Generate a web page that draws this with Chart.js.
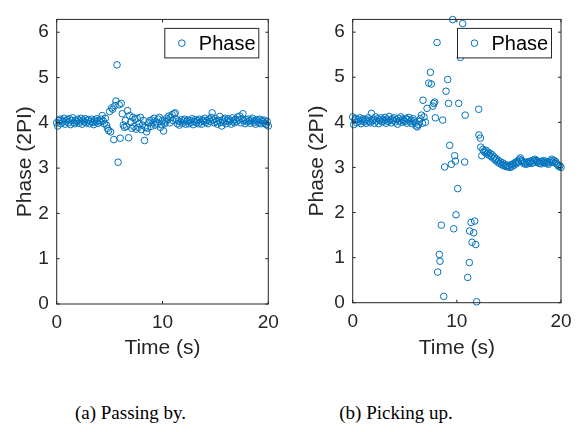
<!DOCTYPE html>
<html lang="en">
  <head>
    <meta charset="UTF-8" />
    <title>Phase</title>
    <script src="https://cdn.jsdelivr.net/npm/chart.js"></script>
    <style>
      body { margin: 0; width: 584px; height: 432px; background: #fff; position: relative; overflow: hidden; }
      canvas { position: absolute; top: 0; }
      #chartA { left: 0; }
      #chartB { left: 292px; }
      .caption { position: absolute; top: 402px; text-align: center; font-family: "Liberation Serif", "Times New Roman", serif; font-size: 19px; color: #000; white-space: nowrap; }
    </style>
  </head>
  <body>
    <canvas id="chartA" width="292" height="380"></canvas>
    <canvas id="chartB" width="292" height="380"></canvas>
    <div class="caption" style="left: 0; width: 261px">(a) Passing by.</div>
    <div class="caption" style="left: 266px; width: 260px">(b) Picking up.</div>

    <script>
      // (a) passing by: 0.1 s samples
      const timeA = [
        0, 0.1, 0.2, 0.3, 0.4, 0.5, 0.6, 0.7, 0.8, 0.9,
        1, 1.1, 1.2, 1.3, 1.4, 1.5, 1.6, 1.7, 1.8, 1.9,
        2, 2.1, 2.2, 2.3, 2.4, 2.5, 2.6, 2.7, 2.8, 2.9,
        3, 3.1, 3.2, 3.3, 3.4, 3.5, 3.6, 3.7, 3.8, 3.9,
        4, 4.1, 4.2, 4.3, 4.4, 4.5, 4.6, 4.7, 4.8, 4.9,
        5, 5.1, 5.2, 5.3, 5.4, 5.5, 5.6, 5.7, 5.8, 5.9,
        6, 6.1, 6.2, 6.3, 6.4, 6.5, 6.6, 6.7, 6.8, 6.9,
        7, 7.1, 7.2, 7.3, 7.4, 7.5, 7.6, 7.7, 7.8, 7.9,
        8, 8.1, 8.2, 8.3, 8.4, 8.5, 8.6, 8.7, 8.8, 8.9,
        9, 9.1, 9.2, 9.3, 9.4, 9.5, 9.6, 9.7, 9.8, 9.9,
        10, 10.1, 10.2, 10.3, 10.4, 10.5, 10.6, 10.7, 10.8, 10.9,
        11, 11.1, 11.2, 11.3, 11.4, 11.5, 11.6, 11.7, 11.8, 11.9,
        12, 12.1, 12.2, 12.3, 12.4, 12.5, 12.6, 12.7, 12.8, 12.9,
        13, 13.1, 13.2, 13.3, 13.4, 13.5, 13.6, 13.7, 13.8, 13.9,
        14, 14.1, 14.2, 14.3, 14.4, 14.5, 14.6, 14.7, 14.8, 14.9,
        15, 15.1, 15.2, 15.3, 15.4, 15.5, 15.6, 15.7, 15.8, 15.9,
        16, 16.1, 16.2, 16.3, 16.4, 16.5, 16.6, 16.7, 16.8, 16.9,
        17, 17.1, 17.2, 17.3, 17.4, 17.5, 17.6, 17.7, 17.8, 17.9,
        18, 18.1, 18.2, 18.3, 18.4, 18.5, 18.6, 18.7, 18.8, 18.9,
        19, 19.1, 19.2, 19.3, 19.4, 19.5, 19.6, 19.7, 19.8, 19.9,
        20
      ];
      const phaseA = [
        4.00, 3.93, 4.05, 4.08, 3.98, 4.06, 4.02, 4.10, 3.97, 4.04,
        4.07, 4.00, 4.09, 3.96, 4.05, 4.11, 4.01, 3.98, 4.06, 4.03,
        4.08, 3.99, 4.04, 4.10, 3.97, 4.06, 4.02, 4.09, 4.00, 4.05,
        4.07, 3.98, 4.03, 4.08, 4.01, 3.96, 4.06, 4.02, 4.09, 3.99,
        4.05, 4.02, 4.08, 4.16, 4.04, 3.98, 4.10, 3.95, 3.88, 3.83,
        4.25, 3.80, 4.33, 4.30, 3.63, 4.38, 4.48, 5.28, 3.13, 4.40,
        3.66, 4.43, 4.20, 3.95, 3.90, 4.05, 3.92, 4.27, 3.67, 4.16,
        4.02, 3.88, 4.12, 3.92, 4.08, 3.86, 4.10, 3.90, 3.98, 4.12,
        3.85, 3.95, 4.05, 3.61, 3.90, 3.80, 3.88, 4.00, 4.05, 3.92,
        4.06, 4.00, 4.10, 3.95, 4.02, 3.97, 4.08, 4.12, 3.90, 3.96,
        4.05, 3.82, 3.98, 4.02, 4.10, 4.06, 4.15, 4.00, 4.12, 4.18,
        4.05, 4.20, 4.22, 4.08, 3.98, 4.04, 3.95, 4.02, 4.07, 3.99,
        4.04, 4.08, 3.97, 4.03, 4.06, 3.98, 4.05, 4.01, 4.09, 3.96,
        4.03, 4.07, 4.00, 4.05, 3.98, 4.08, 4.02, 3.97, 4.06, 4.04,
        4.10, 4.01, 4.05, 3.98, 4.08, 4.03, 4.12, 4.22, 4.06, 4.00,
        4.09, 4.03, 3.97, 4.05, 4.14, 4.01, 3.93, 4.07, 4.02, 4.10,
        3.98, 4.05, 4.09, 4.02, 4.06, 3.97, 4.11, 4.04, 4.00, 4.08,
        4.03, 4.13, 4.06, 4.15, 4.00, 4.09, 4.20, 4.05, 3.98, 4.07,
        4.02, 4.08, 4.04, 3.99, 4.06, 4.10, 4.01, 4.05, 3.97, 4.07,
        4.04, 4.00, 4.08, 3.98, 4.05, 4.02, 4.06, 3.99, 3.96, 4.03,
        3.93
      ];

      // (b) picking up
      const timeB = [
        0, 0.1, 0.2, 0.3, 0.4, 0.5, 0.6, 0.7, 0.8, 0.9,
        1, 1.1, 1.2, 1.3, 1.4, 1.5, 1.6, 1.7, 1.8, 1.9,
        2, 2.1, 2.2, 2.3, 2.4, 2.5, 2.6, 2.7, 2.8, 2.9,
        3, 3.1, 3.2, 3.3, 3.4, 3.5, 3.6, 3.7, 3.8, 3.9,
        4, 4.1, 4.2, 4.3, 4.4, 4.5, 4.6, 4.7, 4.8, 4.9,
        5, 5.1, 5.2, 5.3, 5.4, 5.5, 5.6, 5.7, 5.8, 5.9,
        6, 6.1, 6.2, 6.3, 6.4, 6.5, 6.6, 6.7, 6.75, 6.85,
        6.98, 7.14, 7.3, 7.46, 7.55, 7.7, 7.78, 7.87, 7.94, 8.1,
        8.16, 8.32, 8.38, 8.51, 8.64, 8.74, 8.83, 8.96, 9.12, 9.2,
        9.31, 9.47, 9.6, 9.7, 9.79, 9.86, 9.92, 10.08, 10.18, 10.34,
        10.42, 10.56, 10.75, 10.8, 11.04, 11.2, 11.23, 11.36, 11.46, 11.62,
        11.71, 11.81, 11.9, 12.1, 12.12, 12.26, 12.3, 12.4,
        12.5, 12.6, 12.7, 12.8, 12.9,
        13, 13.1, 13.2, 13.3, 13.4, 13.5, 13.6, 13.7, 13.8, 13.9,
        14, 14.1, 14.2, 14.3, 14.4, 14.5, 14.6, 14.7, 14.8, 14.9,
        15, 15.1, 15.2, 15.3, 15.4, 15.5, 15.6, 15.7, 15.8, 15.9,
        16, 16.1, 16.2, 16.3, 16.4, 16.5, 16.6, 16.7, 16.8, 16.9,
        17, 17.1, 17.2, 17.3, 17.4, 17.5, 17.6, 17.7, 17.8, 17.9,
        18, 18.1, 18.2, 18.3, 18.4, 18.5, 18.6, 18.7, 18.8, 18.9,
        19, 19.1, 19.2, 19.3, 19.4, 19.5, 19.6, 19.7, 19.8, 19.9,
        20
      ];
      const phaseB = [
        4.12, 3.95, 4.05, 4.09, 3.99, 4.06, 4.02, 4.10, 3.97, 4.04,
        4.08, 4.01, 4.06, 3.98, 4.05, 4.10, 4.02, 3.99, 4.20, 4.04,
        4.07, 3.98, 4.12, 4.03, 4.08, 3.97, 4.05, 4.10, 4.01, 4.06,
        4.03, 4.11, 3.98, 4.07, 4.02, 4.13, 4.05, 3.99, 4.08, 4.04,
        4.10, 4.01, 4.06, 3.96, 4.09, 4.03, 4.12, 4.00, 4.07, 4.04,
        4.02, 4.09, 3.98, 4.06, 4.11, 4.01, 4.05, 3.97, 4.08, 4.03,
        3.99, 3.92, 3.90, 3.95, 4.02, 4.08, 4.16, 3.98, 4.49, 4.12,
        4.00, 4.31, 4.87, 5.11, 4.85, 4.36, 4.42, 4.45, 4.10, 5.77,
        0.68, 1.07, 0.92, 1.72, 4.05, 0.14, 3.01, 4.69, 4.95, 4.42,
        3.49, 3.07, 6.28, 1.64, 3.26, 3.14, 1.95, 2.53, 4.42, 5.44,
        5.55, 6.19, 3.12, 4.16, 0.56, 0.89, 1.59, 1.78, 1.34, 1.55,
        1.81, 1.29, 0.02, 4.29, 3.72, 3.65, 3.45, 3.26,
        3.40, 3.36, 3.33, 3.38, 3.30,
        3.34, 3.27, 3.31, 3.24, 3.28, 3.20, 3.23, 3.16, 3.19, 3.12,
        3.15, 3.09, 3.12, 3.06, 3.10, 3.04, 3.07, 3.02, 3.05, 3.01,
        3.04, 3.00, 3.06, 3.02, 3.08, 3.05, 3.11, 3.08, 3.14, 3.12,
        3.18, 3.21, 3.16, 3.13, 3.09, 3.12, 3.07, 3.11, 3.08, 3.13,
        3.10, 3.14, 3.09, 3.16, 3.12, 3.18, 3.15, 3.11, 3.14, 3.09,
        3.13, 3.08, 3.12, 3.15, 3.10, 3.14, 3.09, 3.12, 3.07, 3.11,
        3.14, 3.18, 3.12, 3.16, 3.10, 3.13, 3.08, 3.05, 3.02, 3.04,
        3.00
      ];

      const xTicks = [0, 10, 20];
      const yTicks = [0, 1, 2, 3, 4, 5, 6];
      const seriesName = "Phase";

      const axisColor = "#262626";
      const markerColor = "#0072BD";
      const fontName = "'Liberation Sans', Arial, Helvetica, sans-serif";

      // matlab style box: full frame, inward ticks and a boxed legend
      const matlabBox = {
        id: "matlabBox",
        afterDatasetsDraw(chart) {
          const { ctx, chartArea: a, scales } = chart;
          ctx.save();
          ctx.strokeStyle = axisColor;
          ctx.lineWidth = 1;
          ctx.strokeRect(a.left, a.top, a.right - a.left, a.bottom - a.top);
          ctx.beginPath();
          xTicks.forEach((v) => {
            const px = scales.x.getPixelForValue(v);
            ctx.moveTo(px, a.bottom); ctx.lineTo(px, a.bottom - 3);
            ctx.moveTo(px, a.top); ctx.lineTo(px, a.top + 3);
          });
          yTicks.forEach((v) => {
            const py = scales.y.getPixelForValue(v);
            ctx.moveTo(a.left, py); ctx.lineTo(a.left + 3, py);
            ctx.moveTo(a.right, py); ctx.lineTo(a.right - 3, py);
          });
          ctx.stroke();

          // legend
          const w = 94, h = 29.5;
          const lx = a.right - 9.5 - w, ly = a.top + 9;
          ctx.fillStyle = "#fff";
          ctx.fillRect(lx, ly, w, h);
          ctx.lineWidth = 1;
          ctx.strokeRect(lx, ly, w, h);
          ctx.beginPath();
          ctx.strokeStyle = markerColor;
          ctx.arc(lx + 17, ly + h / 2, 3.3, 0, Math.PI * 2);
          ctx.stroke();
          ctx.fillStyle = "#000";
          ctx.font = "20px " + fontName;
          ctx.textBaseline = "middle";
          ctx.fillText(seriesName, lx + 34, ly + h / 2 + 1);
          ctx.restore();
        },
      };

      function makeChart(id, times, values, area) {
        const points = times.map((t, i) => ({ x: t, y: values[i] }));
        return new Chart(document.getElementById(id), {
          type: "scatter",
          data: {
            datasets: [
              {
                label: seriesName,
                data: points,
                pointStyle: "circle",
                pointRadius: 3.3,
                pointBorderWidth: 1,
                borderColor: markerColor,
                backgroundColor: "rgba(0,0,0,0)",
                clip: false,
              },
            ],
          },
          options: {
            responsive: false,
            animation: false,
            layout: { padding: { top: area.top, right: 292 - area.right, left: 0, bottom: 0 } },
            plugins: { legend: { display: false }, tooltip: { enabled: false } },
            scales: {
              x: {
                type: "linear",
                min: 0,
                max: 20,
                afterBuildTicks: (s) => { s.ticks = xTicks.map((v) => ({ value: v })); },
                afterFit: (s) => { s.height = 380 - area.bottom; },
                ticks: { color: axisColor, padding: 7.6, font: { family: fontName, size: 19 } },
                grid: { display: false, drawTicks: false },
                border: { display: false },
                title: {
                  display: true,
                  text: "Time (s)",
                  color: axisColor,
                  font: { family: fontName, size: 21 },
                  padding: { top: 0, bottom: 19.4 },
                },
              },
              y: {
                min: 0,
                max: 2 * Math.PI,
                afterBuildTicks: (s) => { s.ticks = yTicks.map((v) => ({ value: v })); },
                afterFit: (s) => { s.width = area.left; },
                ticks: { color: axisColor, padding: 8, font: { family: fontName, size: 19 } },
                grid: { display: false, drawTicks: false },
                border: { display: false },
                title: {
                  display: true,
                  text: "Phase (2PI)",
                  color: axisColor,
                  font: { family: fontName, size: 21 },
                  padding: { top: 12.7, bottom: 0 },
                },
              },
            },
          },
          plugins: [matlabBox],
        });
      }

      makeChart("chartA", timeA, phaseA, { left: 56.7, right: 268.3, top: 9.3, bottom: 304 });
      makeChart("chartB", timeB, phaseB, { left: 60.7, right: 269, top: 12, bottom: 302.7 });
    </script>
  </body>
</html>
